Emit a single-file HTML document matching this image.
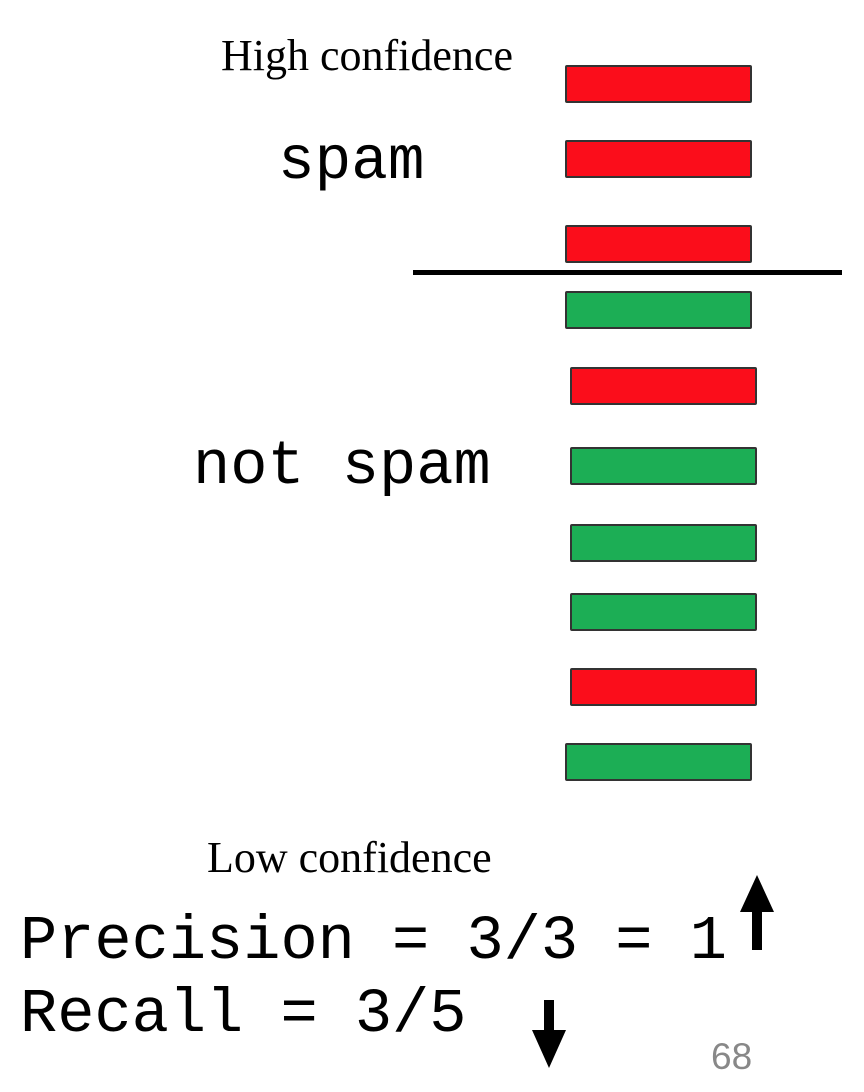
<!DOCTYPE html>
<html><head><style>
body{margin:0;width:864px;height:1092px;background:#fff;position:relative;overflow:hidden}
.t{position:absolute;white-space:nowrap;line-height:1}
.s{font-family:"Liberation Serif",serif;font-size:44px;color:#000}
.m{font-family:"Liberation Mono",monospace;color:#000}
.b{position:absolute;width:183px;height:34px;border:2px solid #333;border-radius:2px}
.r{background:#fb0d1b}.g{background:#1cae55}
</style></head><body>
<div class="t s" style="left:221px;top:34px">High confidence</div>
<div class="t m" style="left:278px;top:132px;font-size:61px">spam</div>
<div class="t m" style="left:193px;top:436px;font-size:62px">not spam</div>
<div class="t s" style="left:207px;top:836px">Low confidence</div>
<div class="t m" style="left:20px;top:911px;font-size:62px">Precision = 3/3 = 1</div>
<div class="t m" style="left:20px;top:984px;font-size:62px">Recall = 3/5</div>
<div class="t" style="left:711px;top:1038px;font-family:'Liberation Sans',sans-serif;font-size:37px;color:#888">68</div>
<div class="b r" style="left:565px;top:65px"></div>
<div class="b r" style="left:565px;top:140px"></div>
<div class="b r" style="left:565px;top:225px"></div>
<div style="position:absolute;left:413px;top:270px;width:429px;height:5px;background:#000"></div>
<div class="b g" style="left:565px;top:291px"></div>
<div class="b r" style="left:570px;top:367px"></div>
<div class="b g" style="left:570px;top:447px"></div>
<div class="b g" style="left:570px;top:524px"></div>
<div class="b g" style="left:570px;top:593px"></div>
<div class="b r" style="left:570px;top:668px"></div>
<div class="b g" style="left:565px;top:743px"></div>
<svg style="position:absolute;left:0;top:0" width="864" height="1092">
<polygon points="757,875 774,912 762,912 762,950 752,950 752,912 740,912" fill="#000"/>
<polygon points="549,1068 566,1030 554,1030 554,1000 544,1000 544,1030 532,1030" fill="#000"/>
</svg>
</body></html>
